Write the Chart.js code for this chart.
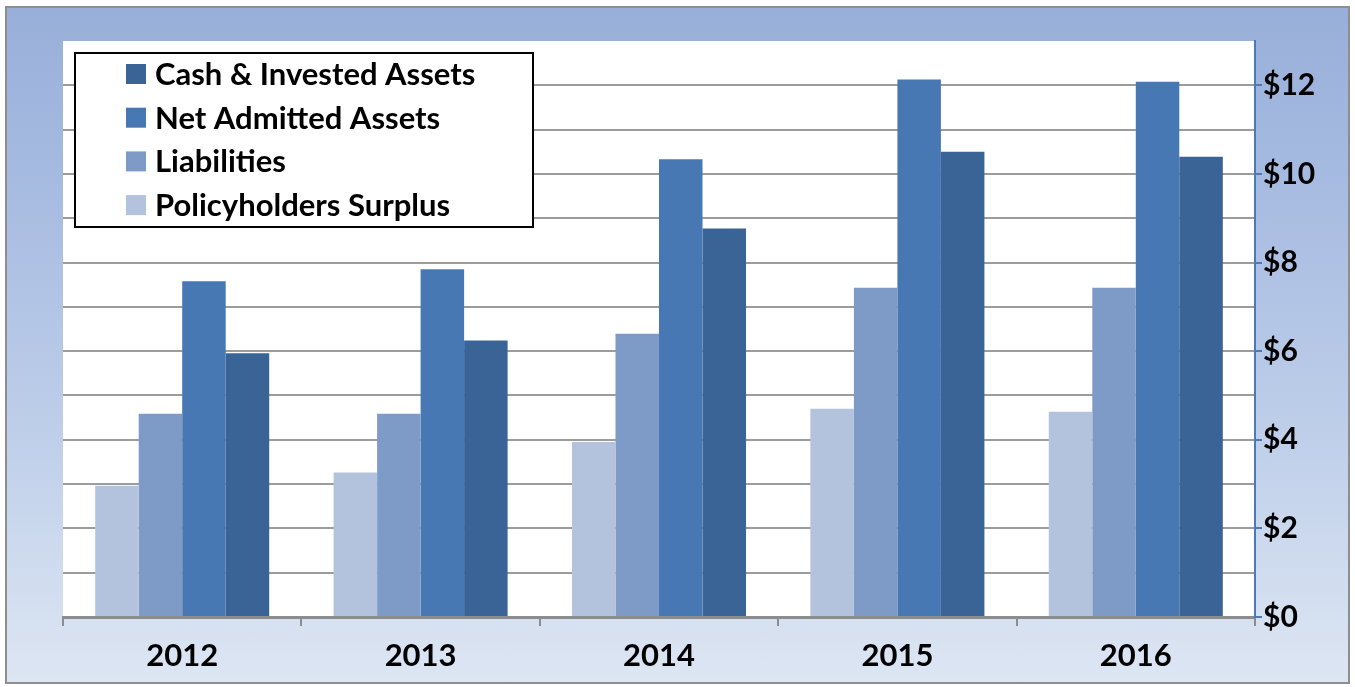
<!DOCTYPE html>
<html>
<head>
<meta charset="utf-8">
<script src="https://cdn.jsdelivr.net/npm/chart.js@4.4.1/dist/chart.umd.min.js"></script>
<style>
  html, body { margin: 0; padding: 0; background: #fff; }
  #frame {
    position: absolute; left: 5px; top: 6px; width: 1341px; height: 674px;
    border: 2px solid #8e8e8e;
    background: linear-gradient(to bottom, #98afd9 0%, #a9bde2 30%, #c0d0ea 65%, #dde6f3 100%);
  }
  #wrap { position: absolute; left: 0; top: 0; width: 1355px; height: 687px; }
</style>
</head>
<body>
<div id="frame"></div>
<div id="wrap"><canvas id="assets"></canvas></div>
<script>
// years on the x axis
var years = ['2012', '2013', '2014', '2015', '2016'];

// values in $ billions
var policyholdersSurplus = [2.96, 3.26, 3.95, 4.70, 4.63];
var liabilities          = [4.59, 4.59, 6.39, 7.43, 7.43];
var netAdmittedAssets    = [7.58, 7.85, 10.33, 12.13, 12.08];
var cashInvestedAssets   = [5.95, 6.24, 8.77, 10.50, 10.39];

var FONT = 'Lato, "Open Sans", sans-serif';

// white plot area behind the bars
var plotBackground = {
  id: 'plotBackground',
  beforeDraw(chart) {
    var a = chart.chartArea, ctx = chart.ctx;
    ctx.save();
    ctx.fillStyle = '#ffffff';
    ctx.fillRect(a.left, a.top, a.right - a.left, a.bottom - a.top);
    ctx.restore();
  }
};

// boxed legend in the upper left, darkest series first
var boxLegend = {
  id: 'boxLegend',
  afterDraw(chart) {
    var ctx = chart.ctx;
    var sets = chart.data.datasets.slice().reverse();
    ctx.save();
    ctx.fillStyle = '#ffffff';
    ctx.fillRect(75, 53, 458, 174);
    ctx.strokeStyle = '#000000';
    ctx.lineWidth = 2;
    ctx.strokeRect(75, 53, 458, 174);
    ctx.font = 'bold 31px ' + FONT;
    ctx.textBaseline = 'middle';
    sets.forEach(function(ds, i) {
      var y = 74 + i * 43.7;
      ctx.fillStyle = ds.backgroundColor;
      ctx.fillRect(126, y - 10, 20, 20);
      ctx.fillStyle = '#000000';
      ctx.fillText(ds.label, 155, y + 1);
    });
    ctx.restore();
  }
};

new Chart('assets', {
  type: 'bar',
  data: {
    labels: years,
    datasets: [
      { label: 'Policyholders Surplus', data: policyholdersSurplus, backgroundColor: '#b3c3de' },
      { label: 'Liabilities', data: liabilities, backgroundColor: '#7e9bc8' },
      { label: 'Net Admitted Assets', data: netAdmittedAssets, backgroundColor: '#4878b4' },
      { label: 'Cash & Invested Assets', data: cashInvestedAssets, backgroundColor: '#3a6496' },
    ]
  },
  options: {
    responsive: true,
    maintainAspectRatio: false,
    animation: false,
    datasets: {
      bar: { categoryPercentage: 0.73, barPercentage: 1.0, borderWidth: 0 }
    },
    layout: { padding: { top: 41, left: 63, right: 0, bottom: 0 } },
    plugins: {
      legend: { display: false },
      tooltip: { enabled: false },
    },
    scales: {
      x: {
        afterFit(scale) { scale.height = 70; },
        grid: {
          offset: true,
          drawOnChartArea: false,
          drawTicks: true,
          tickLength: 9,
          color: '#8c8c8c',
          lineWidth: 2,
        },
        border: { display: true, color: '#8c8c8c', width: 3 },
        ticks: {
          color: '#000000',
          padding: 11,
          font: { family: FONT, size: 31, weight: 'bold' },
        }
      },
      y: {
        position: 'right',
        min: 0,
        max: 13,
        afterFit(scale) { scale.width = 100; },
        grid: {
          color: ctx => (ctx.tick && (ctx.tick.value === 13 || ctx.tick.value === 0)) ? 'rgba(0,0,0,0)' : '#9c9c9c',
          tickColor: ctx => (ctx.tick && ctx.tick.value % 2 === 0) ? '#4a7ab8' : 'rgba(0,0,0,0)',
          lineWidth: 2,
          tickLength: 7,
        },
        border: { display: true, color: '#4a7ab8', width: 2 },
        ticks: {
          stepSize: 1,
          color: '#000000',
          padding: 1,
          font: { family: FONT, size: 30, weight: 'bold' },
          callback: v => (v % 2 === 0 && v <= 12) ? '$' + v : '',
        }
      }
    }
  },
  plugins: [plotBackground, boxLegend]
});
</script>
</body>
</html>
